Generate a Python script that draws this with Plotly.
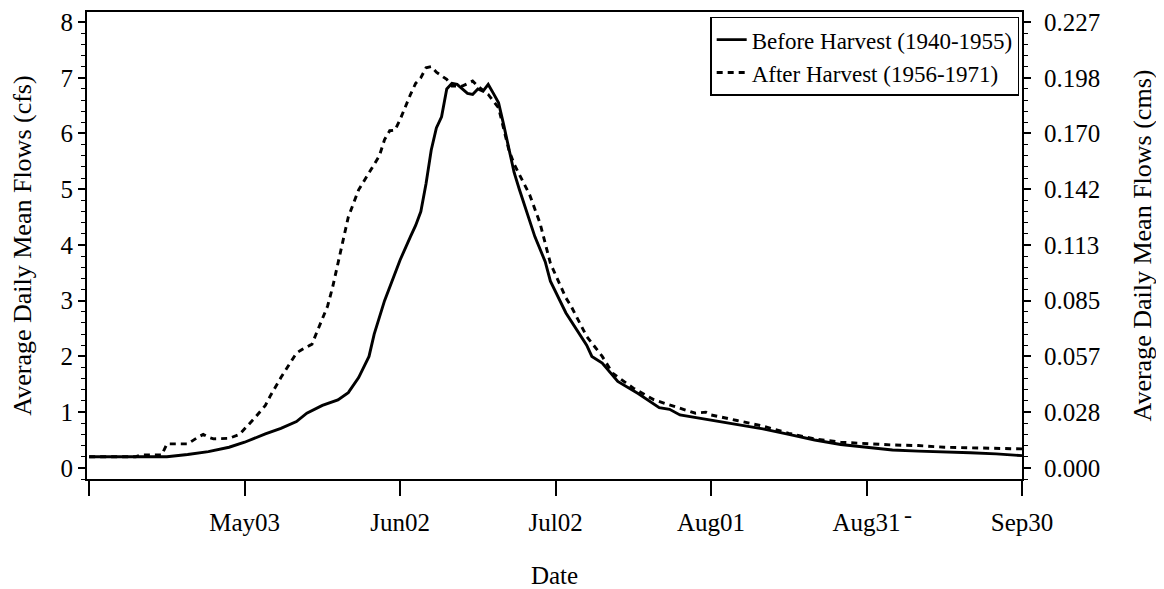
import plotly.graph_objects as go

# daily mean flow (cfs)
before_dates = ['04-03', '04-18', '04-22', '04-26', '04-30', '05-03', '05-07', '05-10', '05-13',
                '05-15', '05-18', '05-21', '05-23', '05-25', '05-27', '05-28', '05-30', '06-01',
                '06-02', '06-04', '06-05', '06-06', '06-07', '06-08', '06-09', '06-10', '06-11',
                '06-12', '06-13', '06-14', '06-15', '06-16', '06-17', '06-18', '06-19', '06-20',
                '06-21', '06-22', '06-23', '06-24', '06-25', '06-27', '06-28', '06-30', '07-01',
                '07-04', '07-06', '07-08', '07-09', '07-11', '07-14', '07-18', '07-22', '07-24',
                '07-26', '07-30', '08-01', '08-06', '08-11', '08-16', '08-21', '08-26', '08-31',
                '09-05', '09-10', '09-15', '09-20', '09-25', '09-30']
before_cfs = [0.20, 0.20, 0.24, 0.29, 0.37, 0.46, 0.61, 0.71, 0.83,
              0.98, 1.12, 1.22, 1.35, 1.62, 2.00, 2.40, 3.00, 3.50,
              3.73, 4.15, 4.35, 4.60, 5.10, 5.70, 6.10, 6.30, 6.80,
              6.90, 6.88, 6.80, 6.72, 6.70, 6.80, 6.76, 6.88, 6.72,
              6.55, 6.15, 5.70, 5.30, 5.00, 4.45, 4.15, 3.70, 3.35,
              2.78, 2.50, 2.20, 2.00, 1.88, 1.55, 1.33, 1.08, 1.05,
              0.95, 0.89, 0.85, 0.78, 0.70, 0.60, 0.50, 0.42, 0.37,
              0.32, 0.30, 0.29, 0.27, 0.25, 0.22]

after_dates = ['04-03', '04-12', '04-13', '04-17', '04-18', '04-22', '04-24', '04-25', '04-26',
               '04-27', '04-30', '05-02', '05-03', '05-05', '05-07', '05-08', '05-10', '05-12',
               '05-13', '05-14', '05-16', '05-17', '05-19', '05-20', '05-21', '05-22', '05-23',
               '05-25', '05-27', '05-29', '05-30', '05-31', '06-01', '06-02', '06-04', '06-05',
               '06-06', '06-07', '06-08', '06-09', '06-11', '06-12', '06-14', '06-16', '06-17',
               '06-19', '06-21', '06-22', '06-23', '06-24', '06-26', '06-27', '06-29', '07-01',
               '07-04', '07-05', '07-08', '07-11', '07-13', '07-17', '07-21', '07-25', '07-29',
               '07-31', '08-01', '08-06', '08-11', '08-16', '08-21', '08-26', '08-31', '09-05',
               '09-10', '09-15', '09-20', '09-25', '09-30']
after_cfs = [0.20, 0.20, 0.23, 0.23, 0.43, 0.43, 0.55, 0.60, 0.55,
             0.52, 0.53, 0.60, 0.70, 0.90, 1.12, 1.30, 1.62, 1.90,
             2.06, 2.12, 2.22, 2.45, 2.90, 3.25, 3.67, 4.09, 4.50,
             4.99, 5.29, 5.60, 5.89, 6.05, 6.06, 6.25, 6.70, 6.90,
             7.00, 7.18, 7.20, 7.10, 6.97, 6.85, 6.85, 6.94, 6.85,
             6.70, 6.46, 6.07, 5.70, 5.45, 5.08, 4.90, 4.39, 3.67,
             3.05, 2.90, 2.36, 2.00, 1.70, 1.43, 1.22, 1.10, 0.98,
             1.00, 0.95, 0.85, 0.75, 0.62, 0.52, 0.46, 0.43, 0.41,
             0.40, 0.37, 0.36, 0.35, 0.34]

tick_dates = ['04-03', '05-03', '06-02', '07-02', '08-01', '08-31', '09-30']
tick_labels = ['', 'May03', 'Jun02', 'Jul02', 'Aug01', 'Aug31', 'Sep30']
cfs_ticks = [0, 1, 2, 3, 4, 5, 6, 7, 8]

YEAR = '2001-'
CMS = 0.0283168
y_lo, y_hi = -0.2, 8.18
FONT = 'Liberation Serif'

fig = go.Figure()

fig.add_trace(go.Scatter(
    x=[YEAR + d for d in before_dates], y=before_cfs, mode='lines',
    name='Before Harvest (1940-1955)',
    line=dict(color='black', width=2.9)
))
fig.add_trace(go.Scatter(
    x=[YEAR + d for d in after_dates], y=after_cfs, mode='lines',
    name='After Harvest (1956-1971)',
    line=dict(color='black', width=2.9, dash='6px,5px')
))
# invisible trace to activate the right-hand (cms) axis
fig.add_trace(go.Scatter(
    x=[YEAR + before_dates[0]], y=[before_cfs[0] * CMS], yaxis='y2',
    mode='lines', showlegend=False, hoverinfo='skip', line=dict(color='rgba(0,0,0,0)')
))

# stray dash printed next to the Aug31 label
fig.add_annotation(x=YEAR + '09-08', y=-0.045, yref='paper', text='-', showarrow=False,
                   yanchor='top', font=dict(family=FONT, size=24, color='black'))

# page body has an 8px margin, so the figure is 8px smaller and margins shifted
fig.update_layout(
    width=1156, height=581,
    margin=dict(l=79, r=142, t=4, b=110, autoexpand=False),
    paper_bgcolor='white', plot_bgcolor='white',
    font=dict(family=FONT, size=25, color='black'),
    showlegend=True,
    legend=dict(x=0.997, xanchor='right', y=0.99, yanchor='top',
                bordercolor='black', borderwidth=1.5, bgcolor='white',
                font=dict(family=FONT, size=23), tracegroupgap=0, itemwidth=30),
    xaxis=dict(
        type='date', automargin=False,
        range=['2001-04-02 14:00', '2001-09-30'],
        tickvals=[YEAR + d for d in tick_dates], ticktext=tick_labels,
        ticks='outside', ticklen=15, tickwidth=2, tickcolor='black',
        ticklabelstandoff=5,
        showline=True, linecolor='black', linewidth=2, mirror=True,
        showgrid=False, zeroline=False,
        title=dict(text='Date', standoff=32, font=dict(size=25))
    ),
    yaxis=dict(
        range=[y_lo, y_hi], automargin=False,
        tickvals=cfs_ticks,
        ticks='outside', ticklen=7, tickwidth=2, tickcolor='black',
        minor=dict(tick0=0, dtick=0.2, ticks='outside', ticklen=4, tickcolor='black', tickwidth=1),
        showline=True, linecolor='black', linewidth=2,
        showgrid=False, zeroline=False,
        title=dict(text='Average Daily Mean Flows (cfs)', standoff=22, font=dict(size=26))
    ),
    yaxis2=dict(
        overlaying='y', side='right', automargin=False,
        range=[y_lo * CMS, y_hi * CMS],
        tickvals=[v * CMS for v in cfs_ticks],
        ticktext=['%.3f' % (v * CMS) for v in cfs_ticks],
        ticks='outside', ticklen=7, tickwidth=2, tickcolor='black',
        ticklabelstandoff=8,
        minor=dict(tick0=0, dtick=0.2 * CMS, ticks='outside', ticklen=4, tickcolor='black', tickwidth=1),
        showline=True, linecolor='black', linewidth=2,
        showgrid=False, zeroline=False,
        title=dict(text='Average Daily Mean Flows (cms)', standoff=34, font=dict(size=26))
    )
)

fig.write_html('out.html')
